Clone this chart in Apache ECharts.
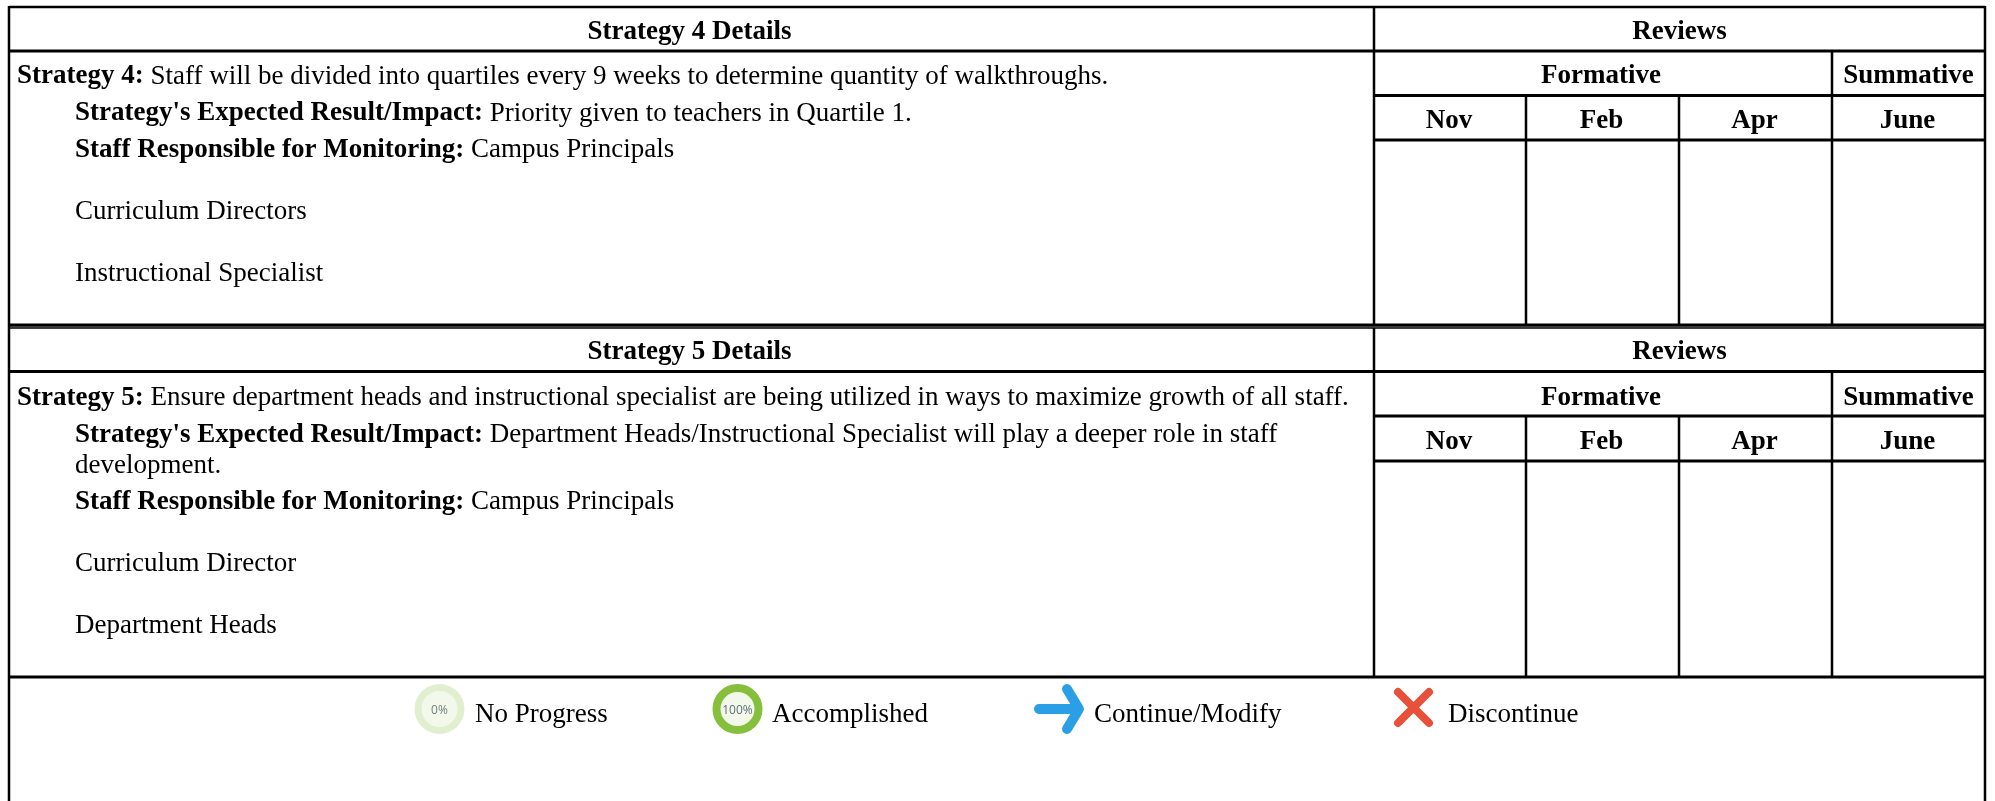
<!DOCTYPE html>
<html>
<head>
<meta charset="utf-8">
<title>Strategy details</title>
<style>
  html, body { margin: 0; padding: 0; background: #fff; }
  #main { width: 1995px; height: 801px; }
</style>
</head>
<body>
<div id="main"></div>
<script src="https://cdn.jsdelivr.net/npm/echarts@6/dist/echarts.min.js"></script>
<script>
var months = ['Nov', 'Feb', 'Apr', 'June'];
var reviewHeads = ['Reviews', 'Formative', 'Summative'];
var detailTitles = ['Strategy 4 Details', 'Strategy 5 Details'];
var strategyLabels = ['Strategy 4:', 'Strategy 5:'];
var strategyTexts = [
  'Staff will be divided into quartiles every 9 weeks to determine quantity of walkthroughs.',
  'Ensure department heads and instructional specialist are being utilized in ways to maximize growth of all staff.'
];
var resultLabel = "Strategy's Expected Result/Impact:";
var staffLabel = 'Staff Responsible for Monitoring:';
var resultTexts = [
  ['Priority given to teachers in Quartile 1.'],
  ['Department Heads/Instructional Specialist will play a deeper role in staff', 'development.']
];
var staffFirst = ['Campus Principals', 'Campus Principals'];
var staffMore = [
  ['Curriculum Directors', 'Instructional Specialist'],
  ['Curriculum Director', 'Department Heads']
];
var legendNames = ['No Progress', 'Accomplished', 'Continue/Modify', 'Discontinue'];

// layout of the table, in pixels
var left = 9, right = 1985, split = 1374;
var monthX = [1374, 1526, 1679, 1832, 1985];
// top, title line, formative line, months line, bottom of each block
var blocks = [
  { top: 7, a: 51, b: 95.5, c: 140, bottom: 325, textY: 76.5, headY: 0 },
  { top: 328, a: 371.5, b: 416, c: 461, bottom: 677, textY: 398, headY: 1 }
];
var fontSize = 27;
var font = '"Liberation Serif", "Times New Roman", serif';
var boldFont = 'bold ' + fontSize + 'px ' + font;
var normalFont = fontSize + 'px ' + font;
var black = '#000';

var measure = document.createElement('canvas').getContext('2d');
var g = [];

function line(x1, y1, x2, y2, w, color) {
  g.push({ type: 'line', shape: { x1: x1, y1: y1, x2: x2, y2: y2 }, style: { stroke: color || black, lineWidth: w || 2.5 } });
}
function head(text, x, y) {
  g.push({ type: 'text', x: x, y: y, style: { text: text, align: 'center', verticalAlign: 'middle', font: boldFont, fill: black } });
}
function plain(text, x, y) {
  g.push({ type: 'text', x: x, y: y, style: { text: text, align: 'left', verticalAlign: 'middle', font: normalFont, fill: black } });
}
// bold label followed by normal text on one baseline
function mixed(bold, text, x, y) {
  g.push({ type: 'text', x: x, y: y, style: { text: bold, align: 'left', verticalAlign: 'middle', font: boldFont, fill: black } });
  measure.font = boldFont;
  var w = measure.measureText(bold + ' ').width;
  plain(text, x + w, y);
}

// grey seam between the two blocks
line(left, 326.5, right, 326.5, 1.5, '#777');

blocks.forEach(function (b, i) {
  line(left, b.top, right, b.top, i == 0 ? 2.5 : 1.5);
  line(left, b.a, right, b.a, 3);
  line(split, b.b, right, b.b, 3);
  line(split, b.c, right, b.c, 3);
  line(left, b.bottom, right, b.bottom, 3);
  line(split, b.top, split, b.bottom);
  line(monthX[3], b.a, monthX[3], b.bottom);
  line(monthX[1], b.b, monthX[1], b.bottom);
  line(monthX[2], b.b, monthX[2], b.bottom);

  head(detailTitles[i], (left + split) / 2 - 2, (b.top + b.a) / 2 + 3 - b.headY);
  head(reviewHeads[0], (split + right) / 2, (b.top + b.a) / 2 + 3 - b.headY);
  head(reviewHeads[1], (monthX[0] + monthX[3]) / 2 - 2, (b.a + b.b) / 2 + 3 + b.headY);
  head(reviewHeads[2], (monthX[3] + monthX[4]) / 2, (b.a + b.b) / 2 + 3 + b.headY);
  months.forEach(function (m, k) {
    head(m, (monthX[k] + monthX[k + 1]) / 2 - 1, (b.b + b.c) / 2 + 3 + b.headY);
  });

  var y = b.textY;
  mixed(strategyLabels[i], strategyTexts[i], 17, y);
  y += 37;
  mixed(resultLabel, resultTexts[i][0], 75, y);
  for (var r = 1; r < resultTexts[i].length; r++) {
    y += 30.5;
    plain(resultTexts[i][r], 75, y);
  }
  y += 36.5;
  mixed(staffLabel, staffFirst[i], 75, y);
  staffMore[i].forEach(function (s) {
    y += 62;
    plain(s, 75, y);
  });
});

// side borders run to the bottom of the page
line(left, 6, left, 801);
line(right, 6, right, 801);

// legend
var legendY = 715;
plain(legendNames[0], 475, legendY);
plain(legendNames[1], 772, legendY);
plain(legendNames[2], 1094, legendY);
plain(legendNames[3], 1448, legendY);

g.push({ type: 'circle', shape: { cx: 439.5, cy: 709, r: 25 }, style: { fill: '#e1efcf' } });
g.push({ type: 'circle', shape: { cx: 439.5, cy: 709, r: 18 }, style: { fill: '#f2f8ea' } });
g.push({ type: 'text', x: 439.5, y: 710.5, style: { text: '0%', align: 'center', verticalAlign: 'middle', font: '12px "Open Sans", sans-serif', fill: '#6f7f80' } });

g.push({ type: 'circle', shape: { cx: 737.5, cy: 709, r: 21 }, style: { fill: '#f2f8ea', stroke: '#86bf3c', lineWidth: 8 } });
g.push({ type: 'text', x: 737.5, y: 710.5, style: { text: '100%', align: 'center', verticalAlign: 'middle', font: '12px "Open Sans", sans-serif', fill: '#5f6f78' } });

var arrowStyle = { stroke: '#2b9fe6', lineWidth: 10, lineCap: 'round', lineJoin: 'round', fill: 'none' };
g.push({ type: 'line', shape: { x1: 1039, y1: 709, x2: 1078, y2: 709 }, style: arrowStyle });
g.push({ type: 'polyline', shape: { points: [[1067, 689], [1079, 709], [1067, 729]] }, style: arrowStyle });

var crossStyle = { stroke: '#e8503a', lineWidth: 8, lineCap: 'round' };
g.push({ type: 'line', shape: { x1: 1398, y1: 692, x2: 1429, y2: 723 }, style: crossStyle });
g.push({ type: 'line', shape: { x1: 1429, y1: 692, x2: 1398, y2: 723 }, style: crossStyle });

var myChart = echarts.init(document.getElementById('main'), null, { renderer: 'canvas' });
myChart.setOption({
  backgroundColor: '#fff',
  animation: false,
  graphic: { elements: g }
});
</script>
</body>
</html>
